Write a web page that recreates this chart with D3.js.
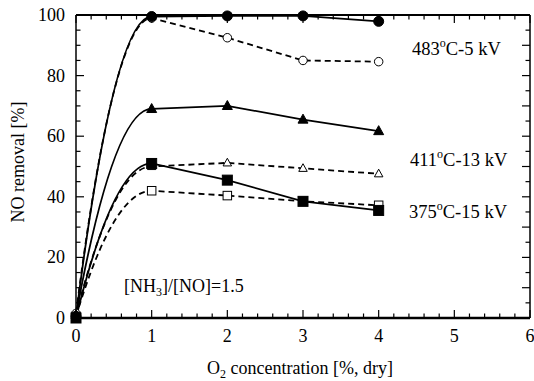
<!DOCTYPE html>
<html><head><meta charset="utf-8">
<script src="https://cdn.jsdelivr.net/npm/d3@7"></script>
<style>body{margin:0;background:#fff}svg{display:block}
text{font-family:'Liberation Serif','Tinos','Times New Roman','DejaVu Serif',serif}</style>
</head><body><svg id="c" width="534" height="381"></svg>
<script>
// ---- data ----
const xValues = [0, 1, 2, 3, 4];
const s483Filled = [0.5, 99.5, 99.7, 99.7, 97.9];
const s483Open   = [1.5, 99.0, 92.5, 85.0, 84.6];
const s411Filled = [1.0, 69.0, 70.0, 65.5, 61.7];
const s411Open   = [1.0, 50.0, 51.2, 49.4, 47.6];
const s375Filled = [0.0, 51.0, 45.5, 38.5, 35.5];
const s375Open   = [0.5, 42.0, 40.4, 38.5, 37.2];
const xTicks = [0, 1, 2, 3, 4, 5, 6];
const yTicks = [0, 20, 40, 60, 80, 100];

const series = [
  {vals: s483Open,   shape: "circle",   filled: false, dashed: true},
  {vals: s411Open,   shape: "triangle", filled: false, dashed: true},
  {vals: s375Open,   shape: "square",   filled: false, dashed: true},
  {vals: s483Filled, shape: "circle",   filled: true,  dashed: false},
  {vals: s411Filled, shape: "triangle", filled: true,  dashed: false},
  {vals: s375Filled, shape: "square",   filled: true,  dashed: false}
];

const W = 534, H = 381;
const m = {l: 76, t: 15, r: 4, b: 63};
const x = d3.scaleLinear().domain([0, 6]).range([m.l, W - m.r]);
const y = d3.scaleLinear().domain([0, 100]).range([H - m.b, m.t]);
const svg = d3.select("#c");

// curve: smooth rise from first to second point (arriving horizontally), straight segments after
function smoothFirst(context) {
  let pts;
  return {
    areaStart() {}, areaEnd() {},
    lineStart() { pts = []; },
    point(px, py) { pts.push([+px, +py]); },
    lineEnd() {
      const [x0, y0] = pts[0], [x1, y1] = pts[1];
      const dx = x1 - x0, dy = y1 - y0;
      context.moveTo(x0, y0);
      context.bezierCurveTo(x0 + dx / 3, y0 + dy * 2 / 3, x1 - dx / 3, y1, x1, y1);
      for (let i = 2; i < pts.length; i++) context.lineTo(pts[i][0], pts[i][1]);
    }
  };
}

// ticks
const g = svg.append("g").attr("stroke", "#000");
const xMinor = d3.range(0, 30.5, 1).map(i => i / 5);
xMinor.forEach(v => {
  const major = Math.abs(v - Math.round(v)) < 1e-9;
  const len = major ? 8 : 4.5;
  g.append("line").attr("x1", x(v)).attr("x2", x(v)).attr("y1", y(0)).attr("y2", y(0) - len).attr("stroke-width", 1.2);
  g.append("line").attr("x1", x(v)).attr("x2", x(v)).attr("y1", y(100)).attr("y2", y(100) + len).attr("stroke-width", 1.2);
});
d3.range(0, 101, 5).forEach(v => {
  const lenL = v % 20 === 0 ? 8 : 4.5;
  const lenR = v % 10 === 0 ? 8 : 4.5;
  g.append("line").attr("x1", x(0)).attr("x2", x(0) + lenL).attr("y1", y(v)).attr("y2", y(v)).attr("stroke-width", 1.2);
  g.append("line").attr("x1", x(6)).attr("x2", x(6) - lenR).attr("y1", y(v)).attr("y2", y(v)).attr("stroke-width", 1.2);
});
// frame
g.append("line").attr("x1", x(0)).attr("x2", x(6)).attr("y1", y(0)).attr("y2", y(0)).attr("stroke-width", 2.5);
g.append("line").attr("x1", x(0)).attr("x2", x(6)).attr("y1", y(100)).attr("y2", y(100)).attr("stroke-width", 2.2);
g.append("line").attr("x1", x(0)).attr("x2", x(0)).attr("y1", y(0)).attr("y2", y(100)).attr("stroke-width", 1.5);
g.append("line").attr("x1", x(6)).attr("x2", x(6)).attr("y1", y(0)).attr("y2", y(100)).attr("stroke-width", 1.5);

// tick labels
svg.append("g").selectAll("text").data(xTicks).join("text")
  .attr("x", d => x(d)).attr("y", 342).attr("text-anchor", "middle")
  .attr("font-size", 18).text(d => d);
svg.append("g").selectAll("text").data(yTicks).join("text")
  .attr("x", 65).attr("y", d => y(d) + 6).attr("text-anchor", "end")
  .attr("font-size", 18).text(d => d);

// axis titles
const xt = svg.append("text").attr("x", 300).attr("y", 374).attr("text-anchor", "middle").attr("font-size", 18);
xt.append("tspan").text("O");
xt.append("tspan").attr("font-size", 12).attr("dy", 4).text("2");
xt.append("tspan").attr("dy", -4).text(" concentration [%, dry]");
svg.append("text").attr("transform", "translate(24,162) rotate(-90)").attr("text-anchor", "middle")
  .attr("font-size", 18).text("NO removal [%]");

// lines
const line = d3.line().x((d, i) => x(xValues[i])).y(d => y(d)).curve(smoothFirst);
series.forEach(s => {
  svg.append("path").attr("d", line(s.vals)).attr("fill", "none").attr("stroke", "#000")
    .attr("stroke-width", 1.8).attr("stroke-dasharray", s.dashed ? "6,4" : null);
});

// markers
series.forEach(s => {
  const sz = s.filled ? 10 : 8.5;
  const gm = svg.append("g");
  s.vals.forEach((v, i) => {
    const cx = x(xValues[i]), cy = y(v);
    let el;
    if (s.shape === "circle") {
      el = gm.append("circle").attr("cx", cx).attr("cy", cy).attr("r", sz / 2);
    } else if (s.shape === "square") {
      el = gm.append("rect").attr("x", cx - sz / 2).attr("y", cy - sz / 2).attr("width", sz).attr("height", sz);
    } else {
      const h = sz * 0.9;
      el = gm.append("path").attr("d", `M${cx},${cy - h * 0.6}L${cx + sz / 2},${cy + h * 0.4}L${cx - sz / 2},${cy + h * 0.4}Z`);
    }
    el.attr("fill", s.filled ? "#000" : "#fff").attr("stroke", "#000").attr("stroke-width", 1);
  });
});

// annotations
function label(xp, yp, parts) {
  const t = svg.append("text").attr("x", xp).attr("y", yp).attr("font-size", 18.5);
  t.append("tspan").text(parts[0]);
  t.append("tspan").attr("font-size", 12).attr("dy", -8).text("o");
  t.append("tspan").attr("dy", 8).text(parts[1]);
}
label(412, 55, ["483", "C-5 kV"]);
label(410, 166, ["411", "C-13 kV"]);
label(409, 218, ["375", "C-15 kV"]);
const nt = svg.append("text").attr("x", 124).attr("y", 292).attr("font-size", 18);
nt.append("tspan").text("[NH");
nt.append("tspan").attr("font-size", 12).attr("dy", 4).text("3");
nt.append("tspan").attr("dy", -4).text("]/[NO]=1.5");
</script></body></html>
